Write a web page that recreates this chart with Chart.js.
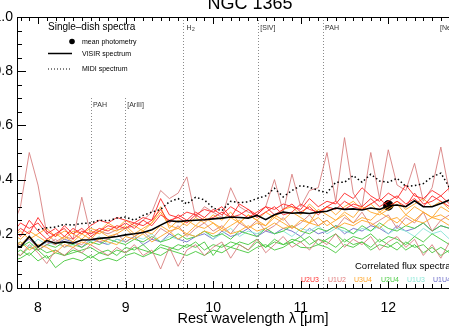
<!DOCTYPE html>
<html><head><meta charset="utf-8">
<script src="https://cdn.jsdelivr.net/npm/chart.js@4.4.1/dist/chart.umd.min.js"></script>
<style>
html,body{margin:0;padding:0;width:449px;height:329px;overflow:hidden;background:#fff;}
#c{position:absolute;left:0;top:0;}
</style></head><body>
<canvas id="c" width="510" height="329"></canvas>
<script>
// ---------- DATA ----------
const chartTitle = "NGC 1365";
const xTitle = "Rest wavelength \u03bb [\u03bcm]";
const xTickValues = [8, 9, 10, 11, 12, 13];
const yTickValues = [0.0, 0.2, 0.4, 0.6, 0.8, 1.0];

const wavelengths = [7.7,7.8,7.9,8.0,8.1,8.2,8.3,8.4,8.5,8.6,8.7,8.8,8.9,9.0,9.1,9.2,9.3,9.4,9.5,9.6,9.7,9.8,9.9,10.0,10.1,10.2,10.3,10.4,10.5,10.6,10.7,10.8,10.9,11.0,11.1,11.2,11.3,11.4,11.5,11.6,11.7,11.8,11.9,12.0,12.1,12.2,12.3,12.4,12.5,12.6,12.7,12.8,12.9];

const visirSpectrum = [0.16,0.151,0.19,0.152,0.175,0.165,0.17,0.165,0.177,0.178,0.183,0.186,0.19,0.196,0.2,0.205,0.215,0.232,0.248,0.245,0.248,0.25,0.252,0.255,0.258,0.262,0.26,0.258,0.268,0.252,0.27,0.28,0.276,0.278,0.275,0.28,0.283,0.295,0.29,0.292,0.288,0.295,0.29,0.303,0.306,0.3,0.322,0.3,0.3,0.312,0.325,0.31,0.315];

const midiSpectrum = [null,null,null,0.215,0.222,0.225,0.235,0.232,0.238,0.24,0.25,0.248,0.258,0.262,0.25,0.268,0.28,0.29,0.318,0.33,0.31,0.335,0.325,0.295,0.285,0.32,0.315,0.318,0.33,0.34,0.368,0.336,0.36,0.378,0.372,0.36,0.352,0.39,0.39,0.415,0.39,0.42,0.395,0.39,0.405,0.375,0.378,0.385,0.41,0.424,0.37,0.38,0.37];

const meanPhotometry = [{x: 12.0, y: 0.305}];

// Correlated flux spectra, one array per observation
const u2u3_a = [0.2,0.24,0.22,0.24,0.2,0.22,0.19,0.22,0.2,0.23,0.25,0.24,0.26,0.25,0.24,0.26,0.25,0.33,0.27,0.26,0.28,0.27,0.29,0.28,0.3,0.26,0.31,0.29,0.27,0.3,0.29,0.31,0.3,0.29,0.33,0.3,0.32,0.31,0.35,0.33,0.37,0.34,0.32,0.35,0.33,0.38,0.34,0.33,0.36,0.34,0.37,0.33,0.34];
const u2u3_b = [0.22,0.19,0.25,0.21,0.18,0.2,0.22,0.18,0.21,0.2,0.22,0.21,0.23,0.22,0.24,0.23,0.25,0.29,0.24,0.27,0.25,0.28,0.26,0.29,0.27,0.3,0.28,0.26,0.28,0.3,0.27,0.29,0.31,0.28,0.3,0.27,0.3,0.32,0.29,0.31,0.3,0.33,0.3,0.32,0.34,0.31,0.33,0.3,0.34,0.32,0.3,0.33,0.31];
const u2u3_c = [0.19,0.22,0.2,0.26,0.21,0.19,0.23,0.2,0.22,0.19,0.21,0.23,0.22,0.24,0.22,0.25,0.23,0.27,0.25,0.26,0.24,0.27,0.25,0.26,0.28,0.26,0.27,0.29,0.26,0.28,0.3,0.27,0.28,0.31,0.29,0.28,0.3,0.29,0.32,0.3,0.29,0.31,0.33,0.3,0.32,0.3,0.35,0.31,0.32,0.34,0.31,0.33,0.32];

const u1u2_a = [0.22,0.3,0.5,0.38,0.2,0.17,0.19,0.18,0.335,0.2,0.21,0.2,0.215,0.22,0.23,0.25,0.28,0.36,0.33,0.35,0.41,0.26,0.3,0.28,0.26,0.37,0.3,0.28,0.27,0.3,0.4,0.28,0.42,0.3,0.36,0.37,0.5,0.32,0.555,0.35,0.3,0.5,0.33,0.51,0.38,0.36,0.46,0.32,0.37,0.52,0.35,0.42,0.35];
const u1u2_b = [0.17,0.15,0.19,0.14,0.16,0.18,0.15,0.17,0.16,0.19,0.17,0.18,0.2,0.17,0.19,0.21,0.18,0.22,0.2,0.23,0.19,0.22,0.24,0.21,0.23,0.2,0.24,0.22,0.25,0.21,0.23,0.26,0.22,0.24,0.27,0.23,0.25,0.22,0.26,0.24,0.28,0.23,0.25,0.27,0.22,0.26,0.24,0.28,0.21,0.25,0.27,0.23,0.26];
const u1u2_c = [0.14,0.12,0.16,0.13,0.09,0.14,0.12,0.15,0.13,0.16,0.14,0.12,0.15,0.13,0.16,0.12,0.14,0.07,0.15,0.08,0.14,0.16,0.12,0.15,0.17,0.11,0.16,0.14,0.18,0.13,0.16,0.19,0.15,0.17,0.14,0.18,0.16,0.2,0.15,0.18,0.16,0.19,0.14,0.17,0.19,0.15,0.18,0.12,0.16,0.11,0.17,0.14,0.16];

const u3u4_a = [0.2,0.18,0.21,0.19,0.17,0.2,0.18,0.21,0.2,0.22,0.21,0.24,0.22,0.25,0.23,0.21,0.24,0.3,0.22,0.25,0.23,0.26,0.24,0.27,0.25,0.28,0.24,0.27,0.25,0.28,0.26,0.29,0.3,0.27,0.31,0.28,0.3,0.27,0.3,0.32,0.29,0.31,0.28,0.3,0.32,0.29,0.31,0.33,0.3,0.32,0.29,0.31,0.3];
const u3u4_b = [0.17,0.16,0.19,0.15,0.18,0.16,0.19,0.17,0.2,0.18,0.21,0.19,0.2,0.22,0.19,0.21,0.2,0.23,0.21,0.22,0.2,0.23,0.22,0.24,0.21,0.23,0.25,0.22,0.24,0.23,0.26,0.24,0.22,0.25,0.24,0.26,0.23,0.25,0.27,0.24,0.26,0.25,0.28,0.26,0.24,0.27,0.25,0.28,0.26,0.27,0.25,0.28,0.26];
const u3u4_c = [0.15,0.17,0.14,0.16,0.15,0.13,0.16,0.15,0.17,0.16,0.18,0.17,0.16,0.19,0.18,0.2,0.17,0.19,0.21,0.18,0.2,0.19,0.21,0.2,0.22,0.2,0.21,0.23,0.21,0.22,0.24,0.22,0.23,0.21,0.24,0.23,0.25,0.22,0.24,0.23,0.25,0.24,0.22,0.25,0.26,0.23,0.25,0.24,0.26,0.25,0.23,0.26,0.25];
const u3u4_d = [0.19,0.21,0.18,0.2,0.22,0.19,0.21,0.2,0.18,0.21,0.2,0.22,0.21,0.23,0.2,0.22,0.24,0.28,0.23,0.22,0.25,0.23,0.26,0.24,0.22,0.26,0.24,0.27,0.25,0.23,0.27,0.25,0.28,0.26,0.24,0.29,0.27,0.25,0.28,0.26,0.3,0.28,0.27,0.29,0.31,0.27,0.3,0.28,0.26,0.3,0.28,0.29,0.27];

const u2u4_a = [0.1,0.11,0.13,0.1,0.12,0.075,0.1,0.11,0.1,0.12,0.1,0.11,0.1,0.12,0.13,0.115,0.13,0.12,0.14,0.13,0.12,0.135,0.12,0.14,0.13,0.15,0.14,0.13,0.15,0.16,0.14,0.15,0.17,0.15,0.148,0.16,0.15,0.13,0.16,0.15,0.17,0.14,0.16,0.15,0.17,0.14,0.16,0.13,0.15,0.12,0.14,0.11,0.13];
const u2u4_b = [0.13,0.12,0.15,0.14,0.11,0.13,0.12,0.14,0.13,0.11,0.13,0.12,0.14,0.13,0.15,0.14,0.13,0.16,0.15,0.14,0.16,0.15,0.17,0.12,0.16,0.15,0.17,0.16,0.18,0.15,0.17,0.16,0.18,0.17,0.19,0.16,0.18,0.2,0.17,0.19,0.18,0.2,0.17,0.19,0.18,0.16,0.19,0.17,0.2,0.18,0.16,0.19,0.17];
const u2u4_c = [0.16,0.15,0.17,0.14,0.16,0.15,0.17,0.16,0.15,0.17,0.16,0.18,0.17,0.16,0.18,0.17,0.19,0.17,0.18,0.2,0.18,0.19,0.21,0.19,0.2,0.18,0.21,0.2,0.19,0.22,0.2,0.21,0.23,0.21,0.2,0.22,0.21,0.23,0.22,0.2,0.23,0.21,0.24,0.22,0.21,0.23,0.22,0.24,0.21,0.23,0.22,0.24,0.22];
const u2u4_d = [0.12,0.14,0.12,0.15,0.13,0.14,0.12,0.13,0.14,0.15,0.13,0.14,0.12,0.15,0.14,0.16,0.13,0.15,0.14,0.16,0.15,0.17,0.14,0.16,0.15,0.17,0.16,0.14,0.17,0.15,0.18,0.16,0.17,0.19,0.16,0.18,0.17,0.15,0.18,0.16,0.17,0.15,0.18,0.16,0.14,0.17,0.15,0.16,0.13,0.15,0.13,0.12,0.14];

const u1u3_a = [0.16,0.17,0.15,0.18,0.16,0.17,0.15,0.16,0.18,0.17,0.19,0.16,0.18,0.17,0.19,0.18,0.2,0.17,0.19,0.18,0.2,0.19,0.21,0.18,0.2,0.22,0.19,0.21,0.2,0.22,0.2,0.21,0.19,0.22,0.21,0.23,0.2,0.22,0.21,0.2,0.22,0.21,0.23,0.2,0.22,0.21,0.19,0.22,0.2,0.21,0.18,0.2,0.19];
const u1u4_a = [0.17,0.16,0.18,0.15,0.17,0.16,0.18,0.17,0.15,0.18,0.17,0.16,0.18,0.17,0.19,0.16,0.18,0.17,0.2,0.18,0.17,0.19,0.2,0.18,0.21,0.19,0.2,0.22,0.19,0.21,0.2,0.22,0.21,0.19,0.22,0.2,0.21,0.23,0.2,0.22,0.21,0.23,0.22,0.2,0.23,0.21,0.22,0.24,0.21,0.23,0.22,0.21,0.23];

// spectral features
const featureWl = [8.6, 8.99, 9.66, 10.51, 11.25, 12.81];
const featureLabels = ["PAH", "[ArIII]", "H2", "[SIV]", "PAH", "[NeII]"];
const featureLow = [true, true, false, false, false, false];

const baselineNames = ["U2U3", "U1U2", "U3U4", "U2U4", "U1U3", "U1U4"];
const baselineColors = ["#ff3030", "#e07c7c", "#ffa62b", "#4ccc44", "#8fe8d8", "#6a6ac8"];

// ---------- CHART ----------
const FONT = "'Liberation Sans', Arial, Helvetica, sans-serif";
const toXY = arr => wavelengths.map((w, i) => ({x: w, y: arr[i]}));
const lineDs = (arr, color, extra) => Object.assign({
  data: toXY(arr), borderColor: color, borderWidth: 1, pointRadius: 0,
  tension: 0, fill: false, spanGaps: false
}, extra || {});

const cRed = "rgba(255,40,40,0.9)", cPink = "rgba(214,120,120,0.85)", cOr = "rgba(255,165,40,0.9)",
      cGr = "rgba(70,200,60,0.9)", cCy = "rgba(140,230,215,0.95)", cPu = "rgba(110,110,200,0.9)";

const datasets = [
  lineDs(visirSpectrum, "#000", {borderWidth: 1.6}),
  lineDs(midiSpectrum, "#000", {borderWidth: 1.5, borderDash: [1.5, 2.5]}),
  lineDs(u2u3_a, cRed), lineDs(u2u3_b, cRed), lineDs(u2u3_c, cRed),
  lineDs(u3u4_a, cOr), lineDs(u3u4_b, cOr), lineDs(u3u4_c, cOr), lineDs(u3u4_d, cOr),
  lineDs(u1u2_a, cPink), lineDs(u1u2_b, cPink), lineDs(u1u2_c, cPink),
  lineDs(u2u4_a, cGr), lineDs(u2u4_b, cGr), lineDs(u2u4_c, cGr), lineDs(u2u4_d, cGr),
  lineDs(u1u3_a, cCy), lineDs(u1u4_a, cPu),
  {data: meanPhotometry, showLine: false, pointRadius: 4.8, pointBackgroundColor: "#000", pointBorderColor: "#000", borderColor: "#000"}
];

const decor = {
  id: 'decor',
  beforeDatasetsDraw(chart) {
    const {ctx, chartArea: a, scales: {x}} = chart;
    ctx.save();
    ctx.strokeStyle = "#8a8a8a"; ctx.lineWidth = 1; ctx.setLineDash([1, 2]);
    featureWl.forEach((w, i) => {
      const px = Math.round(x.getPixelForValue(w)) + 0.5;
      ctx.beginPath(); ctx.moveTo(px, featureLow[i] ? 98 : a.top); ctx.lineTo(px, a.bottom); ctx.stroke();
    });
    ctx.setLineDash([]);
    ctx.fillStyle = "#333"; ctx.font = "7px " + FONT; ctx.textBaseline = "middle";
    featureWl.forEach((w, i) => {
      const px = x.getPixelForValue(w);
      const y = featureLow[i] ? 105 : 28;
      const lab = featureLabels[i];
      if (lab === "H2") {
        ctx.textAlign = "left"; ctx.fillText("H", px + 3, y);
        ctx.font = "5px " + FONT; ctx.fillText("2", px + 8.5, y + 2); ctx.font = "7px " + FONT;
      } else if (i === featureWl.length - 1) {
        ctx.textAlign = "right"; ctx.fillText(lab, px - 2.5, y);
      } else {
        ctx.textAlign = "left"; ctx.fillText(lab, px + 2.5, y);
      }
    });
    ctx.restore();
  },
  afterDraw(chart) {
    const {ctx, chartArea: a, scales: {x, y}} = chart;
    ctx.save();
    // frame
    ctx.strokeStyle = "#000"; ctx.lineWidth = 1;
    ctx.beginPath();
    ctx.rect(Math.round(a.left) + 0.5, Math.round(a.top) + 0.5, Math.round(a.right - a.left), Math.round(a.bottom - a.top));
    ctx.stroke();
    // x ticks
    for (let k = 78; k <= 131; k++) {
      const v = k / 10;
      const px = Math.round(x.getPixelForValue(v)) + 0.5;
      const len = (k % 10 === 0) ? 7 : 4;
      ctx.beginPath();
      ctx.moveTo(px, a.bottom); ctx.lineTo(px, a.bottom - len);
      ctx.moveTo(px, a.top); ctx.lineTo(px, a.top + len);
      ctx.stroke();
    }
    // y ticks
    for (let k = 0; k <= 20; k++) {
      const v = k / 20;
      const py = Math.round(y.getPixelForValue(v)) + 0.5;
      const len = (k % 4 === 0) ? 9 : 5;
      ctx.beginPath();
      ctx.moveTo(a.left, py); ctx.lineTo(a.left + len, py);
      ctx.moveTo(a.right, py); ctx.lineTo(a.right - len, py);
      ctx.stroke();
    }
    // title
    ctx.fillStyle = "#000"; ctx.textAlign = "center"; ctx.textBaseline = "alphabetic";
    ctx.font = "18px " + FONT;
    ctx.fillText(chartTitle, 250, 9);
    // single-dish legend
    ctx.textAlign = "left"; ctx.textBaseline = "middle";
    ctx.font = "10px " + FONT;
    ctx.fillText("Single\u2013dish spectra", 48, 27);
    ctx.font = "7px " + FONT;
    ctx.beginPath(); ctx.arc(72, 41.5, 2.8, 0, Math.PI * 2); ctx.fill();
    ctx.fillText("mean photometry", 82, 42);
    ctx.lineWidth = 1.5;
    ctx.beginPath(); ctx.moveTo(48, 53.5); ctx.lineTo(72, 53.5); ctx.stroke();
    ctx.fillText("VISIR spectrum", 82, 54.5);
    ctx.setLineDash([1, 2]); ctx.lineWidth = 1;
    ctx.beginPath(); ctx.moveTo(48, 69); ctx.lineTo(72, 69); ctx.stroke();
    ctx.setLineDash([]);
    ctx.fillText("MIDI spectrum", 82, 69.5);
    // correlated flux legend
    ctx.font = "9.5px " + FONT;
    ctx.fillText("Correlated flux spectra", 355, 266);
    ctx.font = "7px " + FONT;
    const xs = [301, 328, 354, 381, 407, 433];
    baselineNames.forEach((n, i) => { ctx.fillStyle = baselineColors[i]; ctx.fillText(n, xs[i], 280.5); });
    ctx.restore();
  }
};

new Chart(document.getElementById('c').getContext('2d'), {
  type: 'line',
  data: {datasets},
  options: {
    responsive: false, animation: false, events: [],
    layout: {padding: {top: 17, right: 21, left: 0, bottom: 0}},
    plugins: {legend: {display: false}, tooltip: {enabled: false}, title: {display: false}},
    scales: {
      x: {
        type: 'linear', min: 7.76, max: 13.15,
        grid: {display: false, drawTicks: false}, border: {display: false},
        afterBuildTicks: s => { s.ticks = xTickValues.map(v => ({value: v})); },
        afterFit: s => { s.height = 41; },
        ticks: {font: {family: FONT, size: 14}, color: '#000', padding: 12, maxRotation: 0, autoSkip: false, callback: v => String(v)},
        title: {display: true, text: xTitle, font: {family: FONT, size: 14.5}, color: '#000', padding: {top: 0, bottom: 1.5}}
      },
      y: {
        min: 0, max: 1,
        grid: {display: false, drawTicks: false}, border: {display: false},
        afterBuildTicks: s => { s.ticks = yTickValues.map(v => ({value: v})); },
        afterFit: s => { s.width = 17; },
        ticks: {font: {family: FONT, size: 14}, color: '#000', padding: 4, callback: v => Number(v).toFixed(1)}
      }
    }
  },
  plugins: [decor]
});
</script>
</body></html>
